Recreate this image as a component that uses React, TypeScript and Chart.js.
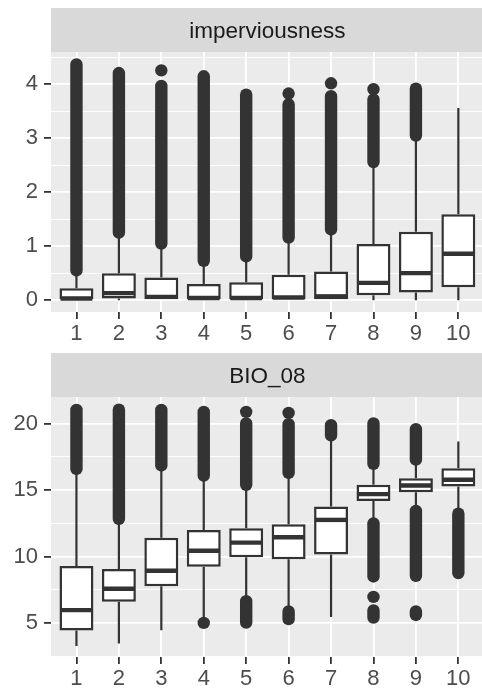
import React, { useEffect, useRef } from 'react';
import { Chart, registerables } from 'chart.js';

Chart.register(...registerables);

const FONT = "'Liberation Sans', Arial, Helvetica, sans-serif";
const DARK = '#333333';

const categories = [1, 2, 3, 4, 5, 6, 7, 8, 9, 10];

// ---- imperviousness ----
const impQ1 = [0, 0.03, 0, 0, 0, 0, 0, 0.09, 0.14, 0.24];
const impMedian = [0.03, 0.13, 0.06, 0.04, 0.04, 0.05, 0.07, 0.32, 0.5, 0.86];
const impQ3 = [0.22, 0.5, 0.42, 0.3, 0.33, 0.47, 0.53, 1.04, 1.27, 1.59];
const impWhiskerLow = [0, 0, 0, 0, 0, 0, 0, 0, 0, 0];
const impWhiskerHigh = [0.52, 1.22, 1.02, 0.7, 0.78, 1.14, 1.3, 2.54, 3.03, 3.56];
// dense outlier runs (category, lowest value, highest value)
const impBandCat = [1, 2, 3, 4, 5, 6, 7, 8, 9];
const impBandLow = [0.55, 1.25, 1.05, 0.73, 0.81, 1.16, 1.31, 2.56, 3.05];
const impBandHigh = [4.37, 4.21, 3.97, 4.15, 3.81, 3.63, 3.78, 3.72, 3.92];
// isolated outliers
const impPointCat = [3, 6, 7, 8];
const impPointVal = [4.26, 3.83, 4.02, 3.91];
const impMajorTicks = [0, 1, 2, 3, 4];
const impMinorTicks = [0.5, 1.5, 2.5, 3.5, 4.5];
const impYMin = -0.22;
const impYMax = 4.6;

// ---- BIO_08 ----
const bioQ1 = [4.42, 6.59, 7.77, 9.23, 9.94, 9.79, 10.16, 14.19, 14.85, 15.28];
const bioMedian = [5.96, 7.57, 8.93, 10.44, 11.05, 11.45, 12.76, 14.7, 15.35, 15.78];
const bioQ3 = [9.28, 9.06, 11.42, 12.0, 12.13, 12.43, 13.77, 15.4, 15.9, 16.66];
const bioWhiskerLow = [3.26, 3.44, 4.45, 5.15, 6.7, 5.95, 5.45, 12.45, 13.35, 13.2];
const bioWhiskerHigh = [16.5, 12.8, 16.8, 16.0, 15.35, 16.25, 19.1, 16.95, 17.25, 18.67];
const bioBandCat = [1, 2, 3, 4, 5, 5, 6, 6, 7, 8, 8, 8, 9, 9, 9, 10];
const bioBandLow = [16.6, 12.83, 16.86, 16.1, 15.4, 5.03, 16.3, 5.28, 19.12, 16.99, 8.5, 5.4, 17.3, 8.55, 5.6, 8.75];
const bioBandHigh = [21.05, 21.07, 21.04, 20.9, 20.03, 6.64, 19.98, 5.86, 19.9, 20.03, 12.5, 5.94, 19.6, 13.44, 5.86, 13.23];
const bioPointCat = [4, 5, 6, 8];
const bioPointVal = [5.0, 20.9, 20.82, 6.96];
const bioMajorTicks = [5, 10, 15, 20];
const bioMinorTicks = [2.5, 7.5, 12.5, 17.5];
const bioYMin = 2.43;
const bioYMax = 22.02;

const X_MIN = 0.4;
const X_MAX = 10.6;

type PanelProps = {
  title: string;
  top: number;
  q1: number[];
  median: number[];
  q3: number[];
  wLow: number[];
  wHigh: number[];
  bandCat: number[];
  bandLow: number[];
  bandHigh: number[];
  ptCat: number[];
  ptVal: number[];
  majorTicks: number[];
  minorTicks: number[];
  yMin: number;
  yMax: number;
};

function Panel(props: PanelProps) {
  const ref = useRef<HTMLCanvasElement | null>(null);

  useEffect(() => {
    const canvas = ref.current;
    if (!canvas) return;
    const {
      title, q1, median, q3, wLow, wHigh, bandCat, bandLow, bandHigh,
      ptCat, ptVal, majorTicks, minorTicks, yMin, yMax,
    } = props;
    const allTicks = [...majorTicks, ...minorTicks].sort((a, b) => a - b);
    const isMajor = (v: number) => majorTicks.some((m) => Math.abs(m - v) < 1e-9);

    const boxPlugin = {
      id: 'boxplotParts',
      beforeDraw(chart: any) {
        const { ctx, chartArea } = chart;
        ctx.save();
        ctx.fillStyle = '#EBEBEB';
        ctx.fillRect(chartArea.left, chartArea.top, chartArea.right - chartArea.left, chartArea.bottom - chartArea.top);
        // strip
        ctx.fillStyle = '#D9D9D9';
        ctx.fillRect(chartArea.left, 8, chartArea.right - chartArea.left, chartArea.top - 8);
        ctx.fillStyle = '#1A1A1A';
        ctx.font = `22.5px ${FONT}`;
        ctx.textAlign = 'center';
        ctx.textBaseline = 'alphabetic';
        ctx.fillText(title, (chartArea.left + chartArea.right) / 2, chartArea.top - 14.5);
        ctx.restore();
      },
      beforeDatasetsDraw(chart: any) {
        const { ctx } = chart;
        const xs = chart.scales.x;
        const ys = chart.scales.y;
        ctx.save();
        ctx.strokeStyle = DARK;
        // outlier runs
        ctx.lineWidth = 12.4;
        ctx.lineCap = 'round';
        bandCat.forEach((c, i) => {
          const px = xs.getPixelForValue(c);
          ctx.beginPath();
          ctx.moveTo(px, ys.getPixelForValue(bandLow[i]));
          ctx.lineTo(px, ys.getPixelForValue(bandHigh[i]));
          ctx.stroke();
        });
        // whiskers
        ctx.lineWidth = 2.2;
        ctx.lineCap = 'butt';
        categories.forEach((c, i) => {
          const px = xs.getPixelForValue(c);
          ctx.beginPath();
          ctx.moveTo(px, ys.getPixelForValue(wLow[i]));
          ctx.lineTo(px, ys.getPixelForValue(q1[i]));
          ctx.moveTo(px, ys.getPixelForValue(q3[i]));
          ctx.lineTo(px, ys.getPixelForValue(wHigh[i]));
          ctx.stroke();
        });
        ctx.restore();
      },
      afterDatasetsDraw(chart: any) {
        const { ctx } = chart;
        const xs = chart.scales.x;
        const ys = chart.scales.y;
        ctx.save();
        ctx.strokeStyle = DARK;
        ctx.lineWidth = 4.4;
        ctx.lineCap = 'butt';
        categories.forEach((c, i) => {
          const py = ys.getPixelForValue(median[i]);
          ctx.beginPath();
          ctx.moveTo(xs.getPixelForValue(c - 0.375), py);
          ctx.lineTo(xs.getPixelForValue(c + 0.375), py);
          ctx.stroke();
        });
        ctx.restore();
      },
    };

    const chart = new Chart(canvas, {
      type: 'bar',
      data: {
        datasets: [
          {
            type: 'scatter',
            data: ptCat.map((c, i) => ({ x: c, y: ptVal[i] })),
            backgroundColor: DARK,
            pointBackgroundColor: DARK,
            borderWidth: 0,
            pointBorderWidth: 0,
            pointRadius: 6.2,
          } as any,
          {
            type: 'bar',
            data: categories.map((c, i) => ({ x: c, y: [q1[i], q3[i]] })),
            backgroundColor: '#FFFFFF',
            borderColor: DARK,
            borderWidth: 2.5,
            borderSkipped: false,
            barPercentage: 0.8,
            categoryPercentage: 1,
          } as any,
        ],
      },
      options: {
        responsive: false,
        animation: false,
        events: [],
        layout: { padding: { top: 52, left: 0, right: 1, bottom: 0 } },
        plugins: { legend: { display: false }, tooltip: { enabled: false } },
        scales: {
          x: {
            type: 'linear',
            min: X_MIN,
            max: X_MAX,
            offset: false,
            afterBuildTicks: (axis: any) => {
              axis.ticks = categories.map((v) => ({ value: v }));
            },
            afterFit: (scale: any) => {
              scale.height = 33;
            },
            grid: {
              offset: false,
              color: '#FFFFFF',
              lineWidth: 1.8,
              tickColor: DARK,
              tickLength: 7,
              tickWidth: 1.8,
            },
            border: { display: false },
            ticks: {
              autoSkip: false,
              maxRotation: 0,
              padding: 2,
              color: '#4D4D4D',
              font: { family: FONT, size: 22 },
              callback: (v: any) => String(v),
            },
          },
          y: {
            type: 'linear',
            min: yMin,
            max: yMax,
            afterBuildTicks: (axis: any) => {
              axis.ticks = allTicks.map((v) => ({ value: v }));
            },
            afterFit: (scale: any) => {
              scale.width = 51;
            },
            grid: {
              offset: false,
              color: '#FFFFFF',
              lineWidth: (ctx: any) => (ctx.tick && isMajor(ctx.tick.value) ? 1.8 : 0.9),
              tickColor: (ctx: any) => (ctx.tick && isMajor(ctx.tick.value) ? DARK : 'rgba(0,0,0,0)'),
              tickLength: 7,
              tickWidth: 1.8,
            },
            border: { display: false },
            ticks: {
              autoSkip: false,
              padding: 6,
              color: '#4D4D4D',
              font: { family: FONT, size: 22 },
              callback: (v: any) => (isMajor(Number(v)) ? String(v) : ''),
            },
          },
        },
      } as any,
      plugins: [boxPlugin],
    });

    return () => chart.destroy();
  }, []);

  return (
    <canvas
      ref={ref}
      width={490}
      height={345}
      style={{ position: 'absolute', left: 0, top: props.top, display: 'block', width: 490, height: 345 }}
    />
  );
}

export default function App() {
  return (
    <div
      style={{
        position: 'absolute',
        left: 0,
        top: 0,
        width: 482,
        height: 690,
        overflow: 'hidden',
        background: '#FFFFFF',
      }}
    >
      <Panel
        title="imperviousness"
        top={0}
        q1={impQ1}
        median={impMedian}
        q3={impQ3}
        wLow={impWhiskerLow}
        wHigh={impWhiskerHigh}
        bandCat={impBandCat}
        bandLow={impBandLow}
        bandHigh={impBandHigh}
        ptCat={impPointCat}
        ptVal={impPointVal}
        majorTicks={impMajorTicks}
        minorTicks={impMinorTicks}
        yMin={impYMin}
        yMax={impYMax}
      />
      <Panel
        title="BIO_08"
        top={345}
        q1={bioQ1}
        median={bioMedian}
        q3={bioQ3}
        wLow={bioWhiskerLow}
        wHigh={bioWhiskerHigh}
        bandCat={bioBandCat}
        bandLow={bioBandLow}
        bandHigh={bioBandHigh}
        ptCat={bioPointCat}
        ptVal={bioPointVal}
        majorTicks={bioMajorTicks}
        minorTicks={bioMinorTicks}
        yMin={bioYMin}
        yMax={bioYMax}
      />
    </div>
  );
}
